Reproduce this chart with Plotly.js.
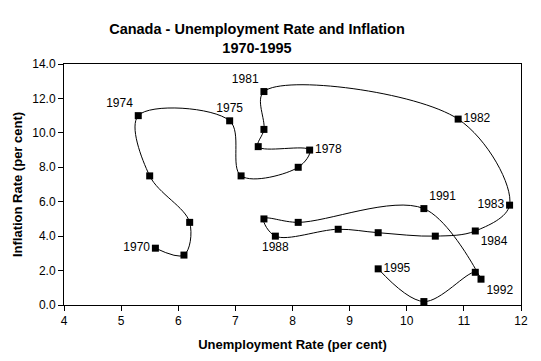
<!DOCTYPE html>
<html>
<head>
<meta charset="utf-8">
<script src="https://cdn.plot.ly/plotly-3.0.1.min.js"></script>
<style>html,body{margin:0;padding:0;background:#fff;}#chart{width:541px;height:361px;}</style>
</head>
<body>
<div id="chart"></div>
<script>
const years = [1970,1971,1972,1973,1974,1975,1976,1977,1978,1979,1980,1981,1982,1983,1984,1985,1986,1987,1988,1989,1990,1991,1992,1993,1994,1995];
const unemployment = [5.6,6.1,6.2,5.5,5.3,6.9,7.1,8.1,8.3,7.4,7.5,7.5,10.9,11.8,11.2,10.5,9.5,8.8,7.7,7.5,8.1,10.3,11.3,11.2,10.3,9.5];
const inflation = [3.3,2.9,4.8,7.5,11.0,10.7,7.5,8.0,9.0,9.2,10.2,12.4,10.8,5.8,4.3,4.0,4.2,4.4,4.0,5.0,4.8,5.6,1.5,1.9,0.2,2.1];
const labelledYears = [1970,1974,1975,1978,1981,1982,1983,1984,1988,1991,1992,1995];
const labelPositions = {1970:'middle left',1974:'top left',1975:'top center',1978:'middle right',1981:'top left',1982:'middle right',1983:'middle left',1984:'bottom right',1988:'bottom center',1991:'top right',1992:'bottom right',1995:'middle right'};

const texts = years.map(y => labelledYears.includes(y) ? String(y) : '');
const positions = years.map(y => labelPositions[y] || 'middle right');

const trace = {
  x: unemployment,
  y: inflation,
  text: texts,
  mode: 'lines+markers+text',
  type: 'scatter',
  textposition: positions,
  textfont: {family: 'Liberation Sans, Arial, sans-serif', size: 12, color: '#000'},
  line: {color: '#000', width: 1, shape: 'spline', smoothing: 1},
  marker: {symbol: 'square', size: 7, color: '#000'},
  hoverinfo: 'x+y+text',
  cliponaxis: false
};

const font = {family: 'Liberation Sans, Arial, sans-serif', size: 12, color: '#000'};
const titleFont = {family: 'Liberation Sans, Arial, sans-serif', size: 13, color: '#000'};
const layout = {
  width: 541, height: 361,
  margin: {l: 64, r: 20, t: 64, b: 56},
  paper_bgcolor: '#fff', plot_bgcolor: '#fff',
  font: font,
  showlegend: false,
  title: {
    text: '<b>Canada - Unemployment Rate and Inflation<br>1970-1995</b>',
    font: {family: 'Liberation Sans, Arial, sans-serif', size: 14.5, color: '#000'},
    x: 257/541, xref: 'container', xanchor: 'center',
    y: 1 - 34/361, yref: 'container', yanchor: 'middle'
  },
  xaxis: {
    range: [4, 12], dtick: 1, tick0: 4,
    showgrid: false, zeroline: false,
    showline: true, linecolor: '#000', linewidth: 1, mirror: true,
    ticks: 'outside', ticklen: 5, tickcolor: '#000',
    tickfont: font,
    title: {text: '<b>Unemployment Rate (per cent)</b>', font: titleFont, standoff: 12}
  },
  yaxis: {
    range: [0, 14], dtick: 2, tick0: 0, tickformat: '.1f',
    showgrid: false, zeroline: false,
    showline: true, linecolor: '#000', linewidth: 1, mirror: true,
    ticks: 'outside', ticklen: 5, tickcolor: '#000',
    tickfont: font,
    title: {text: '<b>Inflation Rate (per cent)</b>', font: titleFont, standoff: 6}
  }
};

Plotly.newPlot('chart', [trace], layout, {displayModeBar: false, staticPlot: true});
</script>
</body>
</html>
